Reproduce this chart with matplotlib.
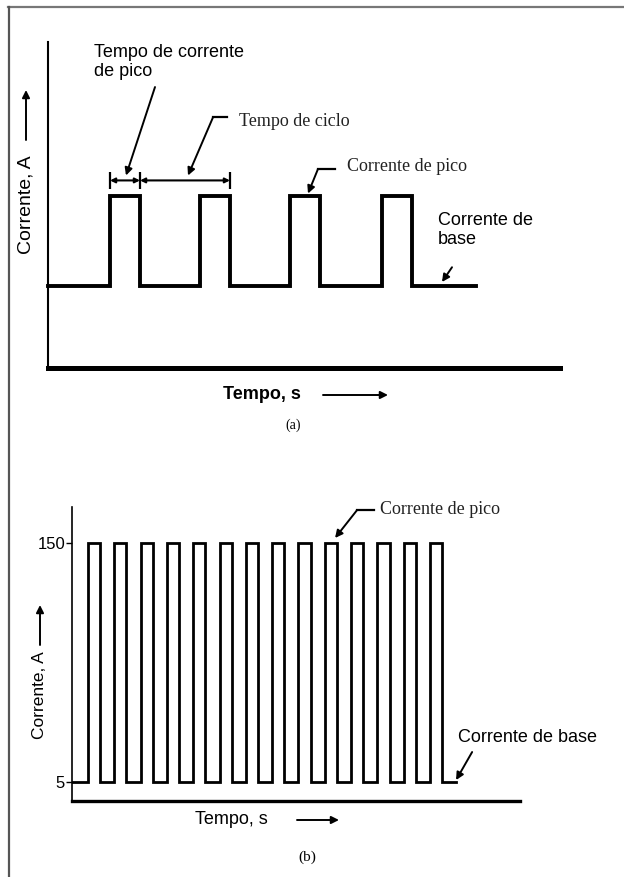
import matplotlib
matplotlib.use("Agg")
import matplotlib.pyplot as plt
from matplotlib.lines import Line2D

plt.rcParams['font.family'] = ['Liberation Sans', 'DejaVu Sans']

# ---- data ----
# panel (a): pulsed current, arbitrary units
a_pulse_start = [1.24, 3.04, 4.84, 6.68]   # time units
a_pulse_width = 0.6
a_base_end = 8.56
a_base, a_peak = 1.0, 2.1

# panel (b): 150 A peak / 5 A base
b_pulse_start = [0.61, 1.61, 2.61, 3.61, 4.61, 5.61, 6.61,
                 7.61, 8.61, 9.61, 10.61, 11.61, 12.61, 13.61]
b_pulse_width = 0.46
b_base_end = 14.6
b_base, b_peak = 5, 150
b_ticks = [5, 150]
b_ticklabels = ["5", "150"]

W, H = 624, 877


def square_wave(starts, width, end, low, high):
    t, y = [0], [low]
    for s in starts:
        t += [s, s, s + width, s + width]
        y += [low, high, high, low]
    t.append(end)
    y.append(low)
    return t, y


def fx(px):
    return px / W


def fy(py):
    return 1 - py / H


fig = plt.figure(figsize=(W / 100, H / 100), dpi=100)

# frame lines of the scanned page
fig.add_artist(Line2D([fx(8), 1], [fy(7), fy(7)], color="#777777", lw=1.6))
fig.add_artist(Line2D([fx(9), fx(9)], [fy(7), 0], color="#555555", lw=1.6))

arrow_kw = dict(arrowstyle="-|>", color="black", lw=1.4, mutation_scale=11,
                shrinkA=0, shrinkB=0)

# ================= panel (a) =================
ax1 = fig.add_axes([fx(48), fy(368), fx(560) - fx(48), fy(42) - fy(368)])
ax1.set_xlim(0, 10.24)
ax1.set_ylim(0, 3.98)
t, y = square_wave(a_pulse_start, a_pulse_width, a_base_end, a_base, a_peak)
ax1.plot(t, y, color="black", lw=2.8, solid_joinstyle="miter", clip_on=False)

for s in ["top", "right"]:
    ax1.spines[s].set_visible(False)
ax1.spines["left"].set_linewidth(1.5)
ax1.spines["bottom"].set_linewidth(3.6)
ax1.set_xticks([])
ax1.set_yticks([])
ax1.patch.set_alpha(0)

# dimension line above the first pulses
yd = 2.29
p0 = a_pulse_start[0]
p1 = p0 + a_pulse_width
p2 = a_pulse_start[1] + a_pulse_width
ax1.vlines([p0, p1, p2], yd - 0.1, yd + 0.1, color="black", lw=1.6)
dim_kw = dict(arrowstyle="<|-|>", color="black", lw=1.5, mutation_scale=7,
              shrinkA=0, shrinkB=0)
ax1.annotate("", xy=(p0, yd), xytext=(p1, yd), arrowprops=dim_kw)
ax1.annotate("", xy=(p1, yd), xytext=(p2, yd), arrowprops=dim_kw)

fs = 13
ax1.text(0.92, 3.74, "Tempo de corrente\nde pico", fontsize=fs,
         ha="left", va="center", linespacing=1.15)
ax1.annotate("", xy=(1.56, 2.35), xytext=(2.14, 3.43), arrowprops=arrow_kw)

ax1.text(3.82, 3.01, "Tempo de ciclo", fontsize=fs, family="Liberation Serif",
         ha="left", va="center", color="#222222")
ax1.plot([3.58, 3.30], [3.06, 3.06], color="black", lw=1.6)
ax1.annotate("", xy=(2.80, 2.35), xytext=(3.30, 3.06), arrowprops=arrow_kw)

ax1.text(5.98, 2.46, "Corrente de pico", fontsize=fs, family="Liberation Serif",
         ha="left", va="center", color="#222222")
ax1.plot([5.74, 5.40], [2.43, 2.43], color="black", lw=1.6)
ax1.annotate("", xy=(5.20, 2.13), xytext=(5.40, 2.43), arrowprops=arrow_kw)

ax1.text(7.8, 1.68, "Corrente de\nbase", fontsize=fs, ha="left", va="center",
         linespacing=1.15)
ax1.annotate("", xy=(7.88, 1.05), xytext=(8.08, 1.23), arrowprops=arrow_kw)

# axis labels (a)
fig.text(fx(26), fy(205), "Corrente, A", rotation=90, fontsize=14,
         ha="center", va="center")
fig.add_artist(plt.Annotation("", xy=(fx(26), fy(90)), xytext=(fx(26), fy(140)),
                              xycoords="figure fraction", arrowprops=arrow_kw))
fig.text(fx(223), fy(395), "Tempo, s", fontsize=13, fontweight="bold",
         ha="left", va="center")
fig.add_artist(plt.Annotation("", xy=(fx(388), fy(395)), xytext=(fx(323), fy(395)),
                              xycoords="figure fraction", arrowprops=arrow_kw))
fig.text(fx(293), fy(425), "(a)", fontsize=10, family="Liberation Serif",
         ha="center", va="center")

# ================= panel (b) =================
ax2 = fig.add_axes([fx(72), fy(801), fx(520) - fx(72), fy(507) - fy(801)])
ax2.set_xlim(0, 17.03)
ax2.set_ylim(-6.5, 171.8)
t, y = square_wave(b_pulse_start, b_pulse_width, b_base_end, b_base, b_peak)
ax2.plot(t, y, color="black", lw=2.0, solid_joinstyle="miter")

for s in ["top", "right"]:
    ax2.spines[s].set_visible(False)
ax2.spines["left"].set_linewidth(1.2)
ax2.spines["bottom"].set_linewidth(2.4)
ax2.set_xticks([])
ax2.set_yticks(b_ticks)
ax2.set_yticklabels(b_ticklabels, fontsize=12)
ax2.tick_params(axis="y", length=4, width=1, pad=1)
ax2.patch.set_alpha(0)

ax2.text(11.71, 170, "Corrente de pico", fontsize=fs, family="Liberation Serif",
         ha="left", va="center", color="#222222")
ax2.plot([11.48, 10.84], [170, 170], color="black", lw=1.6, clip_on=False)
ax2.annotate("", xy=(10.0, 153), xytext=(10.84, 170), arrowprops=arrow_kw,
             annotation_clip=False)

ax2.text(14.68, 32.3, "Corrente de base", fontsize=fs, ha="left", va="center")
ax2.annotate("", xy=(14.6, 6.2), xytext=(15.21, 23.2), arrowprops=arrow_kw)

fig.text(fx(40), fy(695), "Corrente, A", rotation=90, fontsize=12.5,
         ha="center", va="center")
fig.add_artist(plt.Annotation("", xy=(fx(40), fy(605)), xytext=(fx(40), fy(645)),
                              xycoords="figure fraction", arrowprops=arrow_kw))
fig.text(fx(195), fy(820), "Tempo, s", fontsize=13, ha="left", va="center")
fig.add_artist(plt.Annotation("", xy=(fx(339), fy(820)), xytext=(fx(297), fy(820)),
                              xycoords="figure fraction", arrowprops=arrow_kw))
fig.text(fx(307), fy(857), "(b)", fontsize=11, family="Liberation Serif",
         ha="center", va="center")

fig.savefig("out.png", dpi=100)
